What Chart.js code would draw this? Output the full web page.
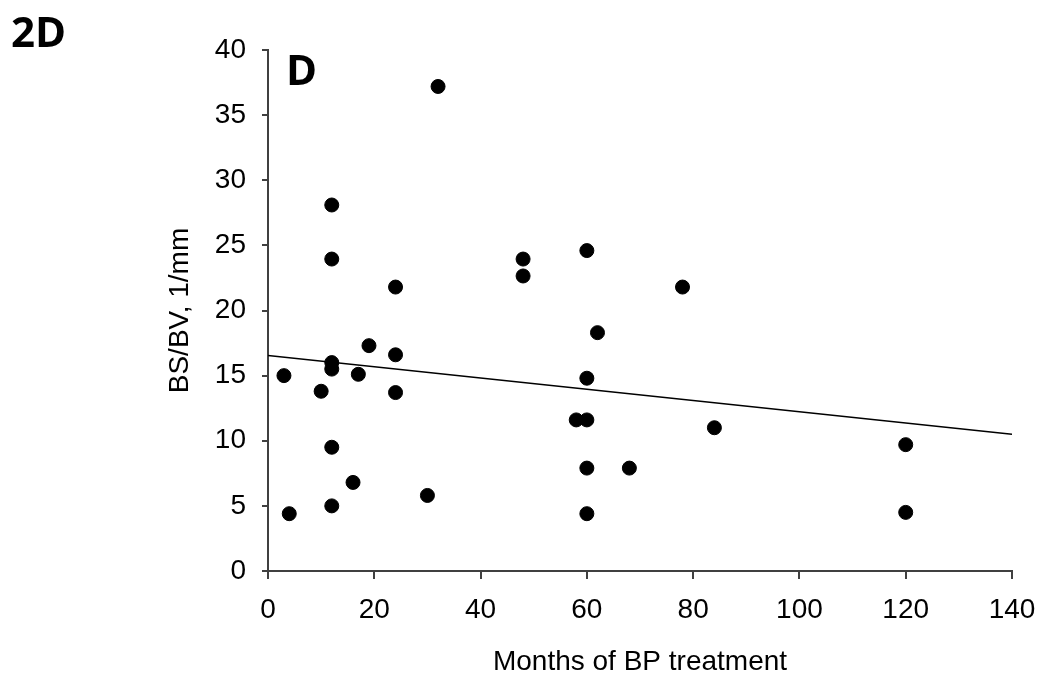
<!DOCTYPE html>
<html lang="en">
<head>
  <meta charset="UTF-8">
  <title>BS/BV vs months of BP treatment</title>
  <script src="https://cdn.jsdelivr.net/npm/chart.js"></script>
  <style>
    body { margin: 0; background: #fff; }
    #wrap { position: relative; width: 1050px; height: 685px; }
    .tag { position: absolute; font-family: "Open Sans", sans-serif; font-weight: bold; font-size: 42px; line-height: 1; color: #000; }
  </style>
</head>
<body>
  <div id="wrap">
    <canvas id="bsbvChart" width="1050" height="685"></canvas>
    <div class="tag" style="left:11px; top:10px;">2D</div>
    <div class="tag" style="left:286px; top:48px;">D</div>
  </div>

  <script>
    // values
    const months = [3, 4, 10, 12, 12, 12, 12, 12, 12, 16, 17, 19, 24, 24, 24, 30, 32,
                    48, 48, 58, 60, 60, 60, 60, 60, 62, 68, 78, 84, 120, 120];
    const bsbv = [15.0, 4.4, 13.8, 28.1, 23.95, 16.0, 15.5, 9.5, 5.0, 6.8, 15.1, 17.3, 21.8, 16.6, 13.7, 5.8, 37.2,
                  23.95, 22.65, 11.6, 24.6, 14.8, 11.6, 7.9, 4.4, 18.3, 7.9, 21.8, 11.0, 9.7, 4.5];

    // regression line end points
    const trendX = [0, 140];
    const trendY = [16.55, 10.5];

    const xTicks = [0, 20, 40, 60, 80, 100, 120, 140];
    const yTicks = [0, 5, 10, 15, 20, 25, 30, 35, 40];

    const axisColor = '#404040';
    const tickFont = { family: 'Liberation Sans, Arial, sans-serif', size: 28 };
    const titleFont = { family: 'Liberation Sans, Arial, sans-serif', size: 28 };

    const ctx = document.getElementById("bsbvChart").getContext("2d");

    new Chart(ctx, {
      type: 'scatter',
      data: {
        datasets: [
          {
            label: 'BS/BV',
            data: months.map((m, i) => ({ x: m, y: bsbv[i] })),
            backgroundColor: '#000',
            borderColor: '#000',
            pointRadius: 7,
            pointHoverRadius: 7
          },
          {
            type: 'line',
            label: 'trend',
            data: trendX.map((m, i) => ({ x: m, y: trendY[i] })),
            borderColor: '#000',
            borderWidth: 1.5,
            pointRadius: 0,
            fill: false
          }
        ]
      },
      options: {
        responsive: false,
        animation: false,
        layout: { padding: { top: 50, right: 38, bottom: 0, left: 160 } },
        plugins: {
          legend: { display: false },
          tooltip: { enabled: false }
        },
        scales: {
          x: {
            type: 'linear',
            min: 0,
            max: 140,
            afterBuildTicks: s => { s.ticks = xTicks.map(v => ({ value: v })); },
            afterFit: s => { s.height = 114; },
            grid: { drawOnChartArea: false, drawTicks: true, tickLength: 8, color: axisColor, lineWidth: 2 },
            border: { display: true, color: axisColor, width: 2 },
            ticks: { color: '#000', font: tickFont, padding: 14, maxRotation: 0 },
            title: { display: true, text: 'Months of BP treatment', color: '#000', font: titleFont, padding: { top: 6, bottom: 6 } }
          },
          y: {
            type: 'linear',
            min: 0,
            max: 40,
            afterBuildTicks: s => { s.ticks = yTicks.map(v => ({ value: v })); },
            afterFit: s => { s.width = 108; },
            grid: { drawOnChartArea: false, drawTicks: true, tickLength: 6, color: axisColor, lineWidth: 2 },
            border: { display: true, color: axisColor, width: 2 },
            ticks: { color: '#000', font: tickFont, padding: 16 },
            title: { display: true, text: 'BS/BV, 1/mm', color: '#000', font: titleFont, padding: { top: 3, bottom: 0 } }
          }
        }
      }
    });
  </script>
</body>
</html>
